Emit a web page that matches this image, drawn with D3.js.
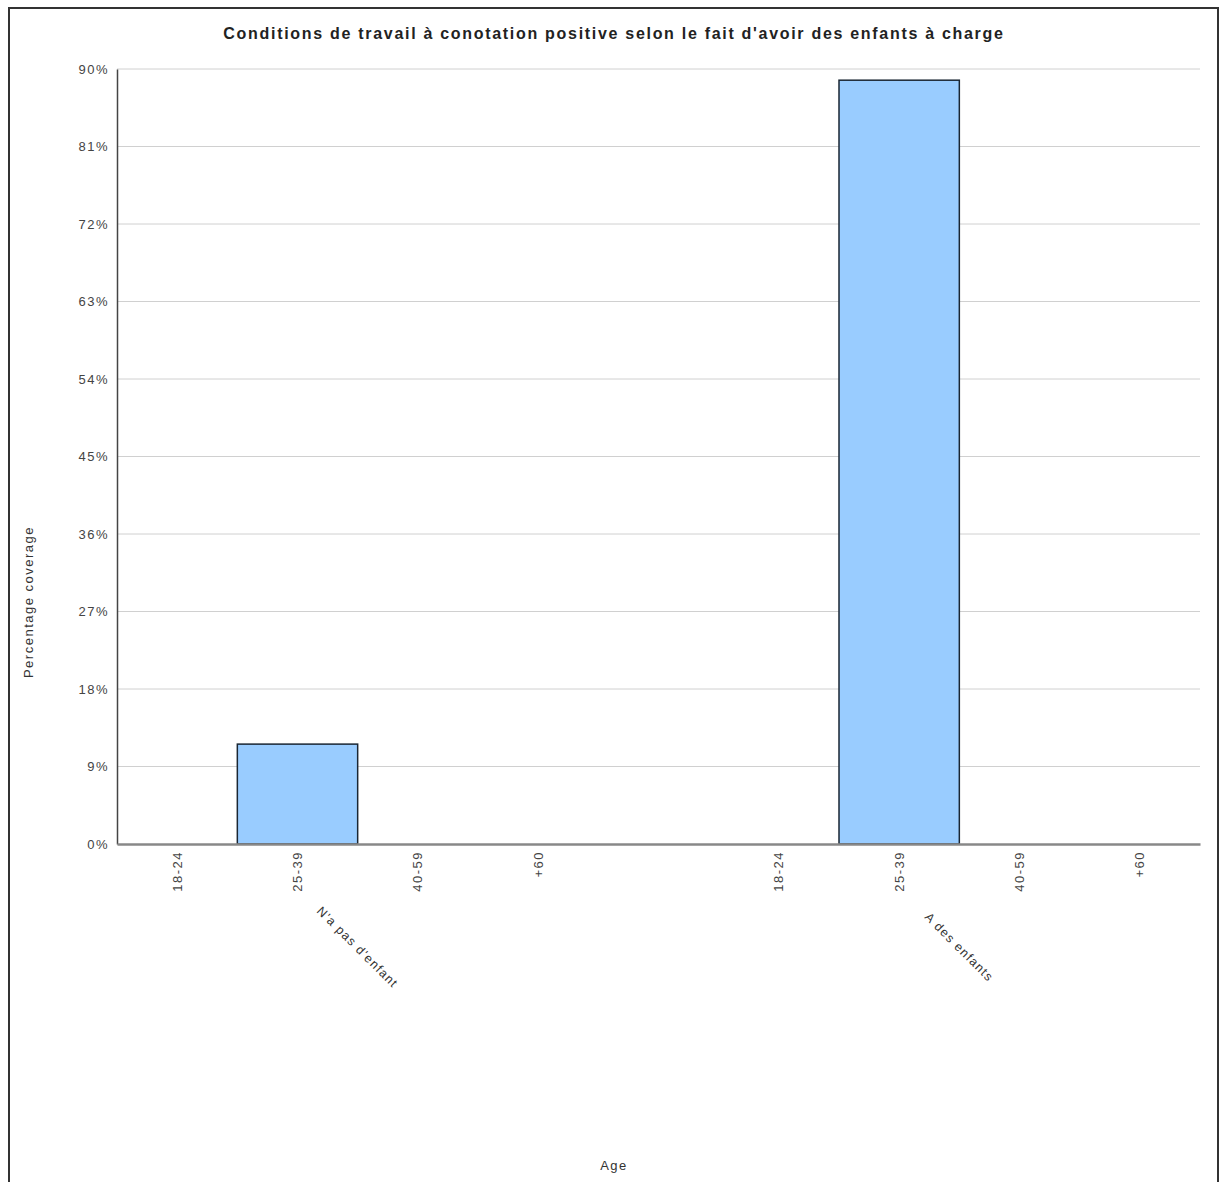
<!DOCTYPE html>
<html>
<head>
<meta charset="utf-8">
<script src="https://cdn.jsdelivr.net/npm/d3@7"></script>
<style>
  html, body { margin: 0; padding: 0; background: #fff; }
  svg { display: block; font-family: "Liberation Sans", Arial, sans-serif; }
</style>
</head>
<body>
<svg id="chart" width="1226" height="1182"></svg>
<script>
// ---- Data ----
const title = "Conditions de travail à conotation positive selon le fait d'avoir des enfants à charge";
const groups = ["N'a pas d'enfant", "A des enfants"];
const ages = ["18-24", "25-39", "40-59", "+60"];
const valuesNoKids = [0, 11.6, 0, 0];
const valuesKids = [0, 88.7, 0, 0];
const yTicks = [0, 9, 18, 27, 36, 45, 54, 63, 72, 81, 90];
const yLabel = "Percentage coverage";
const xLabel = "Age";

// ---- Build rows ----
const seriesByGroup = [valuesNoKids, valuesKids];
const rows = [];
const slots = [];
groups.forEach((g, gi) => {
  ages.forEach((a, ai) => {
    const key = g + "|" + a;
    slots.push(key);
    rows.push({ key, group: g, age: a, value: seriesByGroup[gi][ai] });
  });
  if (gi < groups.length - 1) slots.push("gap" + gi);
});

const svg = d3.select("#chart");
const W = 1226, H = 1182;
const m = { left: 117, right: 26, top: 69, bottom: 338 };
const x0 = m.left, x1 = W - m.right, y0 = H - m.bottom, y1 = m.top;
const LS = 1.5;

// Frame
svg.append("rect").attr("x", 9).attr("y", 8).attr("width", 1209).attr("height", 1190)
  .attr("fill", "#fff").attr("stroke", "#333").attr("stroke-width", 2);

const x = d3.scaleBand().domain(slots).range([x0, x1]).padding(0);
const y = d3.scaleLinear().domain([0, 90]).range([y0, y1]);

// Title
svg.append("text").attr("x", 614).attr("y", 39).attr("text-anchor", "middle")
  .attr("font-size", 16).attr("font-weight", "bold").attr("letter-spacing", 1.7)
  .attr("fill", "#222").text(title);

// Gridlines
svg.append("g").selectAll("line").data(yTicks.filter(d => d > 0)).join("line")
  .attr("x1", x0).attr("x2", x1).attr("y1", d => y(d)).attr("y2", d => y(d))
  .attr("stroke", "#d0d0d0").attr("stroke-width", 1);

// Y axis
const yAxis = d3.axisLeft(y).tickValues(yTicks).tickFormat(d => d + "%").tickSize(0).tickPadding(8);
const gy = svg.append("g").attr("transform", `translate(${x0},0)`).call(yAxis);
gy.select(".domain").attr("stroke", "#444").attr("stroke-width", 1.5);
gy.selectAll("text").attr("font-size", 13).attr("letter-spacing", LS).attr("fill", "#444")
  .attr("font-family", "Liberation Sans, Arial, sans-serif");

// Bars
svg.append("g").selectAll("rect").data(rows.filter(d => d.value > 0)).join("rect")
  .attr("x", d => x(d.key)).attr("width", x.bandwidth())
  .attr("y", d => y(d.value)).attr("height", d => y(0) - y(d.value))
  .attr("fill", "#99ccff").attr("stroke", "#1a2633").attr("stroke-width", 1.5);

// X axis
const xAxis = d3.axisBottom(x).tickValues(rows.map(d => d.key))
  .tickFormat(k => k.split("|")[1]).tickSize(0).tickPadding(0);
const gx = svg.append("g").attr("transform", `translate(0,${y0})`).call(xAxis);
gx.select(".domain").attr("stroke", "#888").attr("stroke-width", 2.5);
gx.selectAll("text")
  .attr("font-size", 13).attr("letter-spacing", LS).attr("fill", "#444")
  .attr("font-family", "Liberation Sans, Arial, sans-serif")
  .attr("text-anchor", "end").attr("dy", "0.35em")
  .attr("transform", "translate(0,7) rotate(-90)")
  .attr("x", 0).attr("y", 0);

// Group labels
groups.forEach((g, gi) => {
  const first = x(g + "|" + ages[0]);
  const last = x(g + "|" + ages[ages.length - 1]) + x.bandwidth();
  const cx = (first + last) / 2;
  svg.append("text").attr("transform", `translate(${cx},947) rotate(45)`)
    .attr("text-anchor", "middle").attr("dy", "0.35em")
    .attr("font-size", 12.5).attr("letter-spacing", 1.2).attr("fill", "#333").text(g);
});

// Axis titles
svg.append("text").attr("transform", "translate(28,602) rotate(-90)")
  .attr("text-anchor", "middle").attr("dy", "0.35em")
  .attr("font-size", 13).attr("letter-spacing", LS).attr("fill", "#333").text(yLabel);
svg.append("text").attr("x", 614).attr("y", 1170).attr("text-anchor", "middle")
  .attr("font-size", 13).attr("letter-spacing", LS).attr("fill", "#333").text(xLabel);
</script>
</body>
</html>
